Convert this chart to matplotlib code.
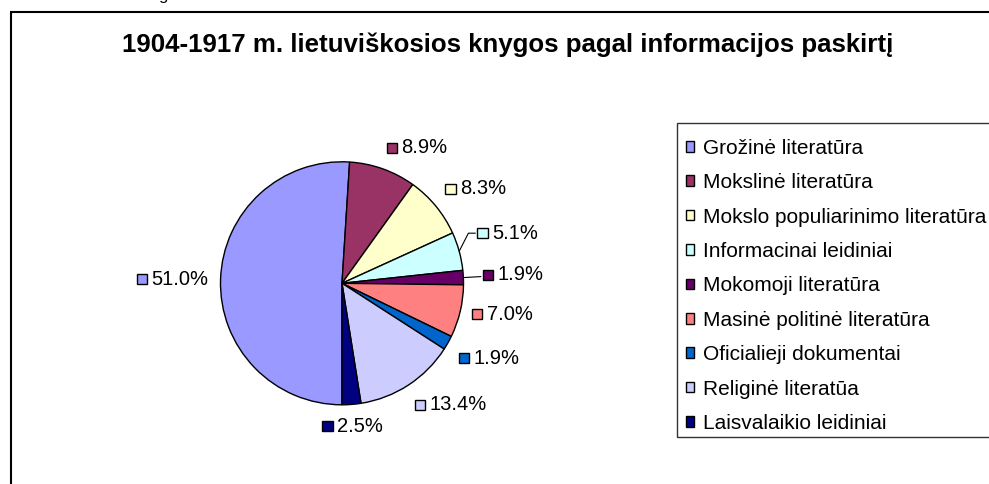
#!/usr/bin/env python3
"""Pie chart: 1904-1917 Lithuanian books by information purpose."""

import numpy as np
import matplotlib
matplotlib.use("Agg")
import matplotlib.pyplot as plt
from matplotlib.patches import Rectangle
from matplotlib.offsetbox import AnnotationBbox, DrawingArea, HPacker, TextArea

plt.rcParams['font.family'] = ['Liberation Sans', 'DejaVu Sans']

# Data
TITLE = "1904-1917 m. lietuviškosios knygos pagal informacijos paskirtį"
categories = [
    "Grožinė literatūra",
    "Mokslinė literatūra",
    "Mokslo populiarinimo literatūra",
    "Informacinai leidiniai",
    "Mokomoji literatūra",
    "Masinė politinė literatūra",
    "Oficialieji dokumentai",
    "Religinė literatūa",
    "Laisvalaikio leidiniai",
]
shares = [51.0, 8.9, 8.3, 5.1, 1.9, 7.0, 1.9, 13.4, 2.5]
colors = ['#9999FF', '#993366', '#FFFFCC', '#CCFFFF', '#660066',
          '#FF8080', '#0066CC', '#CCCCFF', '#000080']

# labels that were dragged away from the pie (index -> offset in points, connector)
moved_labels = {3: ((13, 13), "angle,angleA=0,angleB=63,rad=0"),
                4: ((14, 2), "arc3,rad=0")}

W, H = 989, 484
PX = 121.5          # pie radius in pixels
CX, CY = 342, 283.3  # pie centre (pixels from top-left)
LABEL_FS = 14.5
LEGEND_FS = 15


fig = plt.figure(figsize=(W / 100, H / 100), dpi=100)

# outer chart frame (runs off the right and bottom edges)
fig.add_artist(Rectangle((11 / W, -0.2), 1.5, 1.2 - 12 / H, transform=fig.transFigure,
                         fill=False, edgecolor='black', linewidth=1.5))

# fragment of text above the chart
fig.text(163 / W, 1.0, "g", ha='center', va='baseline', fontsize=12)

fig.text(508 / W, 1 - 44.5 / H, TITLE, ha='center', va='center',
         fontsize=18.6, fontweight='bold')

xr, yr = 2.5, 1.6
ax = fig.add_axes([(CX - xr * PX) / W, (H - CY - yr * PX) / H, 2 * xr * PX / W, 2 * yr * PX / H])
wedges, _ = ax.pie(shares, colors=colors, startangle=270, counterclock=False,
                   wedgeprops=dict(edgecolor='black', linewidth=1))
ax.set_xlim(-xr, xr)
ax.set_ylim(-yr, yr)
ax.set_aspect('equal')
ax.axis('off')

for i, (w, v, c) in enumerate(zip(wedges, shares, colors)):
    mid = np.deg2rad((w.theta1 + w.theta2) / 2)
    ca, sa = np.cos(mid), np.sin(mid)

    da = DrawingArea(7.5, 7.5, 0, 0)
    da.add_artist(Rectangle((0, 0), 7.5, 7.5, facecolor=c, edgecolor='black', linewidth=1))
    ta = TextArea(f"{v:.1f}%", textprops=dict(fontsize=LABEL_FS))
    box = HPacker(children=[da, ta], align='center', pad=0, sep=3)

    if i in moved_labels:
        off, conn = moved_labels[i]
        ab = AnnotationBbox(box, (ca, sa), xybox=off, boxcoords='offset points',
                            box_alignment=(0, 0.5), frameon=False, pad=0.1,
                            arrowprops=dict(arrowstyle='-', color='black', lw=0.8,
                                            shrinkA=0, shrinkB=0, connectionstyle=conn))
    else:
        hx = 0 if ca > 0.15 else (1 if ca < -0.15 else 0.5)
        vy = 0 if sa > 0.3 else (1 if sa < -0.3 else 0.5)
        ab = AnnotationBbox(box, (1.1 * ca, 1.1 * sa), box_alignment=(hx, vy),
                            frameon=False, pad=0)
    ax.add_artist(ab)

# legend box (right side runs off the figure)
fig.add_artist(Rectangle((677 / W, 1 - 437 / H), 0.5, (437 - 123) / H, transform=fig.transFigure,
                         fill=False, edgecolor='#333333', linewidth=1))
leg = fig.legend(wedges, categories, loc='upper left',
                 bbox_to_anchor=(686 / W, 1 - 138.7 / H), bbox_transform=fig.transFigure,
                 frameon=False, borderaxespad=0, borderpad=0,
                 fontsize=LEGEND_FS, handlelength=0.4, handleheight=0.4, handletextpad=0.43,
                 labelspacing=0.74)

fig.savefig("out.png", dpi=100)
